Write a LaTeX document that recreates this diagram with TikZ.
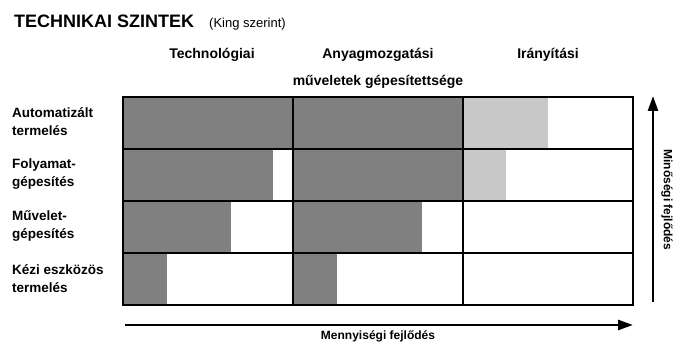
\documentclass[tikz,border=0pt]{standalone}
\usepackage{fontspec}
\setmainfont{Liberation Sans}
\usetikzlibrary{positioning,arrows.meta}
\definecolor{darkc}{RGB}{128,128,128}
\definecolor{lightc}{RGB}{200,200,200}
\tikzset{
  titlelbl/.style = {font=\fontsize{18}{20}\selectfont\bfseries, anchor=base west, inner sep=0pt},
  notelbl/.style  = {font=\fontsize{13}{15}\selectfont, anchor=base west, inner sep=0pt},
  colhead/.style  = {font=\fontsize{14}{16}\selectfont\bfseries, inner sep=0pt},
  rowhead/.style  = {font=\fontsize{13.5}{18}\selectfont\bfseries, align=left, anchor=west, inner sep=0pt},
  axislbl/.style  = {font=\fontsize{12}{14}\selectfont\bfseries, inner sep=0pt},
  full/.style     = {fill=darkc},
  part/.style     = {fill=lightc},
  grid/.style     = {line width=2.6pt, line join=miter},
  growth/.style   = {-{Triangle[length=15pt,width=10pt]}, line width=2.6pt},
}
\begin{document}
\begin{tikzpicture}[x=1pt, y=-1pt]
\useasboundingbox (0,0) rectangle (674,342);

% title and column headers
\node[titlelbl] (title) at (14,28) {TECHNIKAI SZINTEK};
\node[notelbl] (king) at (209,28) {(King szerint)};
\node[colhead] (tech) at (212,55) {Technológiai};
\node[colhead] (anyag) at (378,55) {Anyagmozgatási};
\node[colhead] (irany) at (548,55) {Irányítási};
\node[colhead] (muv) at (378,82) {műveletek gépesítettsége};

% row headers, top to bottom
\node[rowhead] (auto) at (12,122) {Automatizált\\termelés};
\node[rowhead] (foly) at (12,174) {Folyamat-\\gépesítés};
\node[rowhead] (muvg) at (12,226) {Művelet-\\gépesítés};
\node[rowhead] (kezi) at (12,279) {Kézi eszközös\\termelés};

% filled shares per cell
\fill[full] (123,97) rectangle (463,149);
\fill[part] (463,97) rectangle (548,149);
\fill[full] (123,149) rectangle (273,201);
\fill[full] (293,149) rectangle (463,201);
\fill[part] (463,149) rectangle (506,201);
\fill[full] (123,201) rectangle (231,253);
\fill[full] (293,201) rectangle (422,253);
\fill[full] (123,253) rectangle (167,305);
\fill[full] (293,253) rectangle (337,305);

% grid
\draw[grid] (123,97) rectangle (633,305);
\foreach \gx in {293,463} \draw[grid] (\gx,97) -- (\gx,305);
\foreach \gy in {149,201,253} \draw[grid] (123,\gy) -- (633,\gy);

% axes
\coordinate (qlo) at (653,302);
\coordinate (qhi) at (653,96);
\coordinate (mlo) at (125,325);
\coordinate (mhi) at (633,325);
\draw[growth] (qlo) -- (qhi);
\draw[growth] (mlo) -- (mhi);
\node[axislbl, rotate=-90] (minos) at (667,200) {Minőségi fejlődés};
\node[axislbl] (menny) at (378,336) {Mennyiségi fejlődés};

\end{tikzpicture}
\end{document}
